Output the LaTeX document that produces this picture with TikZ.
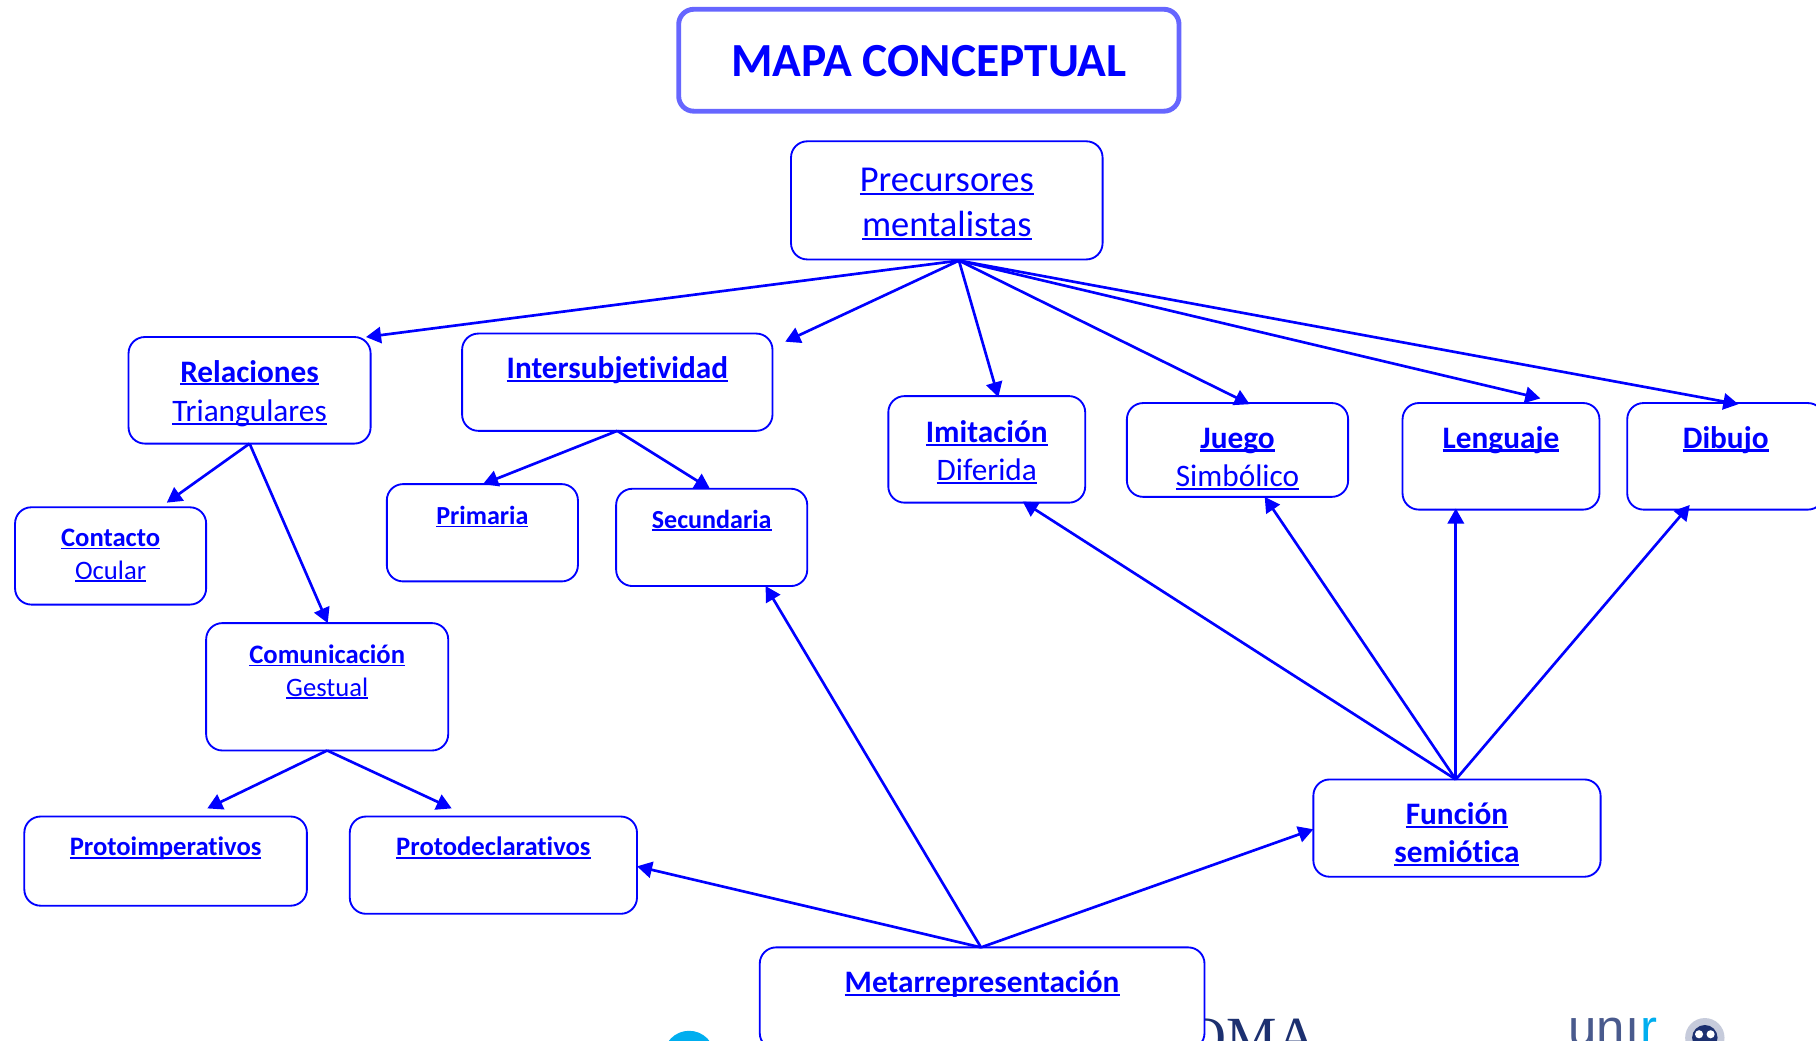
\documentclass[tikz,border=0pt]{standalone}
\usepackage{fontspec}
\setmainfont[RawFeature={-liga}]{Carlito}
\usetikzlibrary{arrows.meta,calc}
\definecolor{mapblue}{RGB}{0,0,255}
\definecolor{titleline}{RGB}{102,102,255}
\definecolor{logonavy}{RGB}{28,48,112}
\definecolor{logosky}{RGB}{0,174,239}
\newcommand\ulbar[1]{{\setbox0\hbox{#1}\dimen0=\wd0 \hbox{\box0\kern-\dimen0\raisebox{-0.105em}{\rule{\dimen0}{0.065em}}}}}
\newcommand\fsz[1]{\fontsize{#1}{#1}\selectfont}
% #1 = height of the baseline above the box centre, #2 = size, #3 = text
\newcommand\lnb[3]{\makebox[0pt]{\raisebox{#1}[0pt][0pt]{\fsz{#2}\ulbar{\textbf{#3}}}}}
\newcommand\lnr[3]{\makebox[0pt]{\raisebox{#1}[0pt][0pt]{\fsz{#2}\ulbar{#3}}}}
\tikzset{
  cbox/.style={draw=mapblue,line width=1.6pt,rounded corners=14pt,fill=white,text=mapblue,inner sep=0pt,outer sep=0pt},
  titlebox/.style={draw=titleline,line width=4.2pt,rounded corners=13pt,fill=white,text=mapblue,inner sep=0pt,outer sep=0pt},
  link/.style={draw=mapblue,line width=2.3pt,-{Triangle[length=13pt,width=14pt]},shorten <=0pt,shorten >=0pt},
}
\begin{document}
\begin{tikzpicture}[x=1pt,y=-1pt]
\useasboundingbox (0,0) rectangle (1568,898);
\clip (0,0) rectangle (1568,898);
% partly visible logos at the lower edge
\fill[logosky] (595,912) circle (22);
\node[text=logonavy,inner sep=0pt,anchor=base west] (logoa) at (1023,912) {\fontspec{Liberation Serif}\fsz{49}OMA};
\node[text=logonavy!80,inner sep=0pt,anchor=base west] (logob) at (1354,903) {\fontspec{Liberation Sans}\fsz{44}unı};
\node[text=logosky,inner sep=0pt,anchor=base west] (logoc) at (1416,903) {\fontspec{Liberation Sans}\fsz{44}r};
\fill[logonavy!25] (1472,896) circle (17);
\fill[logonavy] (1472,896) circle (11);
\fill[white] (1467,893) circle (3.5) (1477,893) circle (3.5);
% boxes
\node[titlebox,minimum width=432pt,minimum height=88pt] (title) at (802,52) {\makebox[0pt]{\raisebox{-14pt}[0pt][0pt]{\fsz{41}\textbf{MAPA CONCEPTUAL}}}};
\node[cbox,minimum width=269pt,minimum height=102pt] (prec) at (817.5,173) {\lnr{8pt}{31.5}{Precursores}\lnr{-31pt}{31.5}{mentalistas}};
\node[cbox,minimum width=209pt,minimum height=92pt] (rel) at (215.5,337) {\lnb{7pt}{27}{Relaciones}\lnr{-27pt}{27}{Triangulares}};
\node[cbox,minimum width=268pt,minimum height=84pt] (inter) at (533,330) {\lnb{3pt}{27}{Intersubjetividad}};
\node[cbox,minimum width=170pt,minimum height=92pt] (imit) at (852,388) {\lnb{6pt}{27}{Imitación}\lnr{-27pt}{27}{Diferida}};
\node[cbox,minimum width=191pt,minimum height=81pt] (juego) at (1068.5,388.5) {\lnb{1.5pt}{27}{Juego}\lnr{-31.5pt}{27}{Simbólico}};
\node[cbox,minimum width=170pt,minimum height=92pt] (leng) at (1296,394) {\lnb{7pt}{27}{Lenguaje}};
\node[cbox,minimum width=170pt,minimum height=92pt] (dib) at (1490,394) {\lnb{7pt}{27}{Dibujo}};
\node[cbox,minimum width=165pt,minimum height=84pt] (cont) at (95.5,480) {\lnb{8pt}{23}{Contacto}\lnr{-20pt}{23}{Ocular}};
\node[cbox,minimum width=165pt,minimum height=84pt] (prim) at (416.5,460) {\lnb{7pt}{22.5}{Primaria}};
\node[cbox,minimum width=165pt,minimum height=84pt] (sec) at (614.5,464) {\lnb{8pt}{22.5}{Secundaria}};
\node[cbox,minimum width=209pt,minimum height=110pt] (com) at (282.5,593) {\lnb{20pt}{23}{Comunicación}\lnr{-8pt}{23}{Gestual}};
\node[cbox,minimum width=244pt,minimum height=77pt] (pimp) at (143,743.5) {\lnb{4.5pt}{23}{Protoimperativos}};
\node[cbox,minimum width=248pt,minimum height=84pt] (pdec) at (426,747) {\lnb{8pt}{23}{Protodeclarativos}};
\node[cbox,minimum width=248pt,minimum height=84pt] (func) at (1258,715) {\lnb{3pt}{27}{Función}\lnb{-30pt}{27}{semiótica}};
\node[cbox,minimum width=384pt,minimum height=88pt] (meta) at (848,862) {\lnb{5pt}{27}{Metarrepresentación}};
% connector hubs and free ends
\coordinate (phub) at (828,225);
\coordinate (mhub) at (847,818);
\coordinate (fhub) at (1257,673);
\coordinate (erel) at (316,291);
\coordinate (eint) at (678,295);
\coordinate (eimi) at (862,343);
\coordinate (ejue) at (1079,349);
\coordinate (elen) at (1330,344);
\coordinate (edib) at (1501,349);
\coordinate (econ) at (144,434);
\coordinate (ecom) at (283,538);
\coordinate (epri) at (417,418);
\coordinate (esec) at (613,422);
\coordinate (epim) at (179,698);
\coordinate (epde) at (390,698);
\coordinate (mdec) at (550,748);
\coordinate (msec) at (661,506);
\coordinate (mfun) at (1134,716);
\coordinate (fimi) at (883,433);
\coordinate (fjue) at (1092,429);
\coordinate (flen) at (1257,439);
\coordinate (fdib) at (1459,436);
% connectors
\draw[link] (phub) -- (erel);
\draw[link] (phub) -- (eint);
\draw[link] (phub) -- (eimi);
\draw[link] (phub) -- (ejue);
\draw[link] (phub) -- (elen);
\draw[link] (phub) -- (edib);
\draw[link] (rel.south) -- (econ);
\draw[link] (rel.south) -- (ecom);
\draw[link] (inter.south) -- (epri);
\draw[link] (inter.south) -- (esec);
\draw[link] (com.south) -- (epim);
\draw[link] (com.south) -- (epde);
\draw[link] (mhub) -- (mdec);
\draw[link] (mhub) -- (msec);
\draw[link] (mhub) -- (mfun);
\draw[link] (fhub) -- (fimi);
\draw[link] (fhub) -- (fjue);
\draw[link] (fhub) -- (flen);
\draw[link] (fhub) -- (fdib);
\end{tikzpicture}
\end{document}
